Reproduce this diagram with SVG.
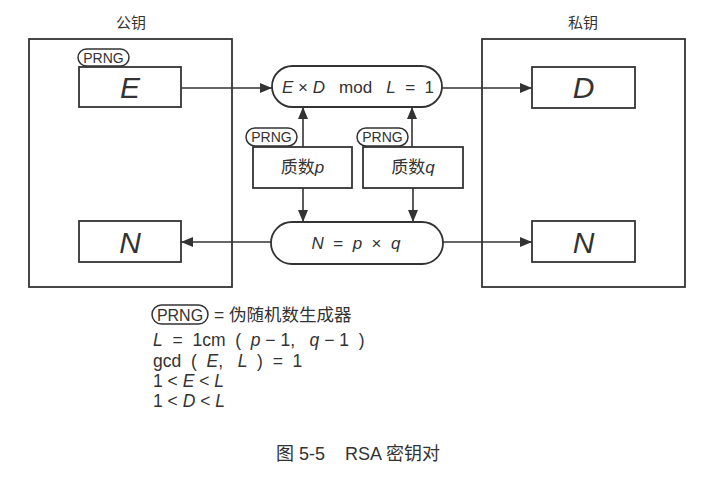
<svg xmlns="http://www.w3.org/2000/svg" width="715" height="493" viewBox="0 0 715 493" xml:space="preserve">
<defs>
<marker id="ah" markerWidth="12" markerHeight="10" refX="12" refY="5" orient="auto" markerUnits="userSpaceOnUse">
<path d="M0,0 L12,5 L0,10 Z" fill="#333"/>
</marker>
<style>
.box{fill:none;stroke:#333;stroke-width:1.8}
.nb{fill:#fff;stroke:#333;stroke-width:1.8}
.pill{fill:#fff;stroke:#333;stroke-width:1.8}
.sp{fill:#fff;stroke:#333;stroke-width:1.5}
.ln{fill:none;stroke:#333;stroke-width:1.6}
text{font-family:"Liberation Sans","Noto Sans CJK SC",sans-serif;fill:#333;white-space:pre}
.big{font-size:30px;font-style:italic;text-anchor:middle}
.mid{font-size:17px;text-anchor:middle}
.pr{font-size:14px;text-anchor:middle}
.ttl{font-size:15px;text-anchor:middle}
.leg{font-size:17.5px}
.it{font-style:italic}
</style>
</defs>
<rect width="715" height="493" fill="#fff"/>
<g id="public"><rect class="box" x="29" y="39" width="203" height="248"/><text class="ttl" x="131" y="28">公钥</text></g>
<g id="private"><rect class="box" x="482" y="39" width="203" height="248"/><text class="ttl" x="583" y="28">私钥</text></g>
<g id="connectors">
<line class="ln" x1="181" y1="88" x2="272" y2="88" marker-end="url(#ah)"/>
<line class="ln" x1="442" y1="88" x2="532" y2="88" marker-end="url(#ah)"/>
<line class="ln" x1="303" y1="147" x2="303" y2="107" marker-end="url(#ah)"/>
<line class="ln" x1="412" y1="147" x2="412" y2="107" marker-end="url(#ah)"/>
<line class="ln" x1="303" y1="188" x2="303" y2="222" marker-end="url(#ah)"/>
<line class="ln" x1="413" y1="188" x2="413" y2="222" marker-end="url(#ah)"/>
<line class="ln" x1="272" y1="242" x2="181" y2="242" marker-end="url(#ah)"/>
<line class="ln" x1="442" y1="242" x2="532" y2="242" marker-end="url(#ah)"/>
</g>
<g id="E"><rect class="nb" x="79" y="67" width="102" height="40"/><text class="big" x="130" y="98">E</text><rect class="sp" x="78" y="49" width="51" height="17" rx="8.5"/><text class="pr" x="103.5" y="62.5">PRNG</text></g>
<g id="formula"><rect class="pill" x="272" y="66" width="170" height="41" rx="20.5"/><text class="mid" x="358" y="93"><tspan class="it">E</tspan> × <tspan class="it">D</tspan>   mod   <tspan class="it">L</tspan>  =  1</text></g>
<g id="D"><rect class="nb" x="532" y="67" width="103" height="41"/><text class="big" x="583.5" y="98">D</text></g>
<g id="prime-p"><rect class="nb" x="253" y="147" width="99" height="41"/><text class="mid" x="302.5" y="173">质数<tspan class="it">p</tspan></text><rect class="sp" x="246" y="128" width="51" height="18" rx="9"/><text class="pr" x="271.5" y="142">PRNG</text></g>
<g id="prime-q"><rect class="nb" x="363" y="147" width="100" height="41"/><text class="mid" x="413" y="173">质数<tspan class="it">q</tspan></text><rect class="sp" x="357" y="128" width="51" height="18" rx="9"/><text class="pr" x="382.5" y="142">PRNG</text></g>
<g id="Npq"><rect class="pill" x="271" y="222" width="172" height="42" rx="21"/><text class="mid" x="356" y="249"><tspan class="it">N</tspan>  =  <tspan class="it">p</tspan>  ×  <tspan class="it">q</tspan></text></g>
<g id="N-public"><rect class="nb" x="79" y="221" width="102" height="41"/><text class="big" x="130" y="253">N</text></g>
<g id="N-private"><rect class="nb" x="532" y="221" width="103" height="41"/><text class="big" x="583.5" y="253">N</text></g>
<g id="legend">
<rect class="sp" x="152" y="305" width="56" height="19" rx="9.5"/>
<text x="180" y="320.5" font-size="16" text-anchor="middle">PRNG</text>
<text class="leg" x="214" y="321">= 伪随机数生成器</text>
<text class="leg" x="153" y="346"><tspan class="it">L</tspan>  =  1cm  (  <tspan class="it">p</tspan> − 1,   <tspan class="it">q</tspan> − 1  )</text>
<text class="leg" x="153" y="367">gcd  (  <tspan class="it">E</tspan>,   <tspan class="it">L</tspan>  )  =  1</text>
<text class="leg" x="153" y="387">1 &lt; <tspan class="it">E</tspan> &lt; <tspan class="it">L</tspan></text>
<text class="leg" x="153" y="407">1 &lt; <tspan class="it">D</tspan> &lt; <tspan class="it">L</tspan></text>
</g>
<text x="358" y="460" font-size="18" text-anchor="middle">图 5-5    RSA 密钥对</text>
</svg>
